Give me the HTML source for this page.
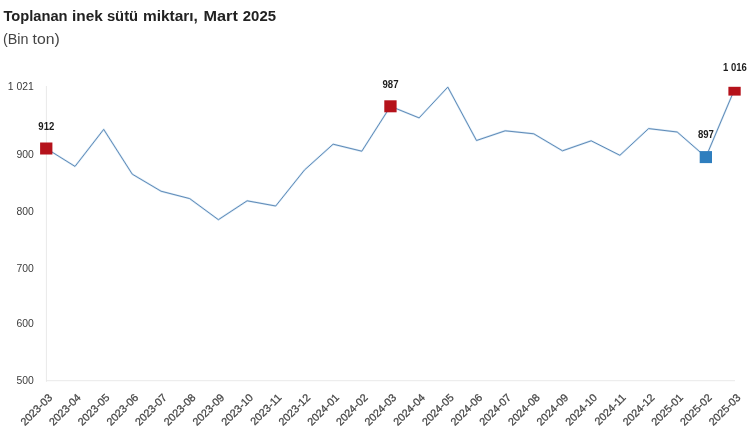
<!DOCTYPE html>
<html><head><meta charset="utf-8"><title>Toplanan inek sütü miktarı</title>
<style>
html,body{margin:0;padding:0;background:#fff;}
body{width:750px;height:432px;overflow:hidden;position:relative;font-family:"Liberation Sans",sans-serif;}
svg{position:absolute;left:0;top:0;display:block}
.title{font:bold 14px "Liberation Sans",sans-serif;fill:#222;}
.sub{font:14.6px "Liberation Sans",sans-serif;fill:#444;}
.yl{font:10.4px "Liberation Sans",sans-serif;fill:#3c3c3c;}
.xl{font:10.8px "Liberation Sans",sans-serif;fill:#444;stroke:#444;stroke-width:0.25px;}
.dl{font:bold 10px "Liberation Sans",sans-serif;fill:#1c1c1c;}
</style></head><body>
<svg width="750" height="432" viewBox="0 0 750 432">
<text class="title" y="20.8"><tspan x="3.4" textLength="64.2" lengthAdjust="spacingAndGlyphs">Toplanan</tspan> <tspan x="72.0" textLength="30.8" lengthAdjust="spacingAndGlyphs">inek</tspan> <tspan x="106.9" textLength="31.2" lengthAdjust="spacingAndGlyphs">sütü</tspan> <tspan x="142.9" textLength="55" lengthAdjust="spacingAndGlyphs">miktarı,</tspan> <tspan x="203.5" textLength="34.3" lengthAdjust="spacingAndGlyphs">Mart</tspan> <tspan x="242.8" textLength="33.2" lengthAdjust="spacingAndGlyphs">2025</tspan></text>
<text class="sub" y="43.5"><tspan x="3.0" textLength="25.5" lengthAdjust="spacingAndGlyphs">(Bin</tspan> <tspan x="32.6" textLength="27.2" lengthAdjust="spacingAndGlyphs">ton)</tspan></text>
<line x1="46.4" y1="86" x2="46.4" y2="381.8" stroke="#e9e9e9" stroke-width="1"/>
<line x1="46" y1="380.7" x2="735" y2="380.7" stroke="#e9e9e9" stroke-width="1"/>
<text class="yl" x="33.8" y="89.8" text-anchor="end">1 021</text>
<text class="yl" x="33.8" y="158.2" text-anchor="end">900</text>
<text class="yl" x="33.8" y="215.2" text-anchor="end">800</text>
<text class="yl" x="33.8" y="271.5" text-anchor="end">700</text>
<text class="yl" x="33.8" y="327.3" text-anchor="end">600</text>
<text class="yl" x="33.8" y="384.2" text-anchor="end">500</text>
<polyline points="46.3,148.5 75.0,166.4 103.7,129.4 132.3,174.2 161.0,191.2 189.7,198.6 218.4,219.7 247.1,200.8 275.7,206.0 304.4,170.1 333.1,144.2 361.8,151.2 390.5,106.3 419.1,117.9 447.8,87.1 476.5,140.5 505.2,130.8 533.8,133.8 562.5,150.8 591.2,140.8 619.9,155.3 648.6,128.6 677.2,132.0 705.9,157.1 734.6,89.2" fill="none" stroke="#a9cdec" stroke-opacity="0.5" stroke-width="2" stroke-linejoin="round"/>
<polyline points="46.3,148.5 75.0,166.4 103.7,129.4 132.3,174.2 161.0,191.2 189.7,198.6 218.4,219.7 247.1,200.8 275.7,206.0 304.4,170.1 333.1,144.2 361.8,151.2 390.5,106.3 419.1,117.9 447.8,87.1 476.5,140.5 505.2,130.8 533.8,133.8 562.5,150.8 591.2,140.8 619.9,155.3 648.6,128.6 677.2,132.0 705.9,157.1 734.6,89.2" fill="none" stroke="#5a86b3" stroke-width="0.95" stroke-linejoin="round"/>
<rect x="40.1" y="142.5" width="12.3" height="12" fill="#b5121b"/>
<rect x="384.3" y="100.3" width="12.3" height="12" fill="#b5121b"/>
<rect x="699.7" y="151.1" width="12.3" height="12" fill="#2e7ebe"/>
<rect x="728.4" y="86.8" width="12.3" height="8.8" fill="#b5121b"/>
<text class="dl" x="38.3" y="129.9" textLength="16" lengthAdjust="spacingAndGlyphs">912</text>
<text class="dl" x="382.5" y="87.8" textLength="16" lengthAdjust="spacingAndGlyphs">987</text>
<text class="dl" x="697.9" y="137.6" textLength="16" lengthAdjust="spacingAndGlyphs">897</text>
<text class="dl" x="723.0" y="70.6" textLength="23.8" lengthAdjust="spacingAndGlyphs">1 016</text>
<text class="xl" transform="translate(52.9,398.3) rotate(-45)" text-anchor="end">2023-03</text>
<text class="xl" transform="translate(81.6,398.3) rotate(-45)" text-anchor="end">2023-04</text>
<text class="xl" transform="translate(110.3,398.3) rotate(-45)" text-anchor="end">2023-05</text>
<text class="xl" transform="translate(138.9,398.3) rotate(-45)" text-anchor="end">2023-06</text>
<text class="xl" transform="translate(167.6,398.3) rotate(-45)" text-anchor="end">2023-07</text>
<text class="xl" transform="translate(196.3,398.3) rotate(-45)" text-anchor="end">2023-08</text>
<text class="xl" transform="translate(225.0,398.3) rotate(-45)" text-anchor="end">2023-09</text>
<text class="xl" transform="translate(253.7,398.3) rotate(-45)" text-anchor="end">2023-10</text>
<text class="xl" transform="translate(282.3,398.3) rotate(-45)" text-anchor="end">2023-11</text>
<text class="xl" transform="translate(311.0,398.3) rotate(-45)" text-anchor="end">2023-12</text>
<text class="xl" transform="translate(339.7,398.3) rotate(-45)" text-anchor="end">2024-01</text>
<text class="xl" transform="translate(368.4,398.3) rotate(-45)" text-anchor="end">2024-02</text>
<text class="xl" transform="translate(397.1,398.3) rotate(-45)" text-anchor="end">2024-03</text>
<text class="xl" transform="translate(425.7,398.3) rotate(-45)" text-anchor="end">2024-04</text>
<text class="xl" transform="translate(454.4,398.3) rotate(-45)" text-anchor="end">2024-05</text>
<text class="xl" transform="translate(483.1,398.3) rotate(-45)" text-anchor="end">2024-06</text>
<text class="xl" transform="translate(511.8,398.3) rotate(-45)" text-anchor="end">2024-07</text>
<text class="xl" transform="translate(540.4,398.3) rotate(-45)" text-anchor="end">2024-08</text>
<text class="xl" transform="translate(569.1,398.3) rotate(-45)" text-anchor="end">2024-09</text>
<text class="xl" transform="translate(597.8,398.3) rotate(-45)" text-anchor="end">2024-10</text>
<text class="xl" transform="translate(626.5,398.3) rotate(-45)" text-anchor="end">2024-11</text>
<text class="xl" transform="translate(655.2,398.3) rotate(-45)" text-anchor="end">2024-12</text>
<text class="xl" transform="translate(683.8,398.3) rotate(-45)" text-anchor="end">2025-01</text>
<text class="xl" transform="translate(712.5,398.3) rotate(-45)" text-anchor="end">2025-02</text>
<text class="xl" transform="translate(741.2,398.3) rotate(-45)" text-anchor="end">2025-03</text>

</svg>
</body></html>
